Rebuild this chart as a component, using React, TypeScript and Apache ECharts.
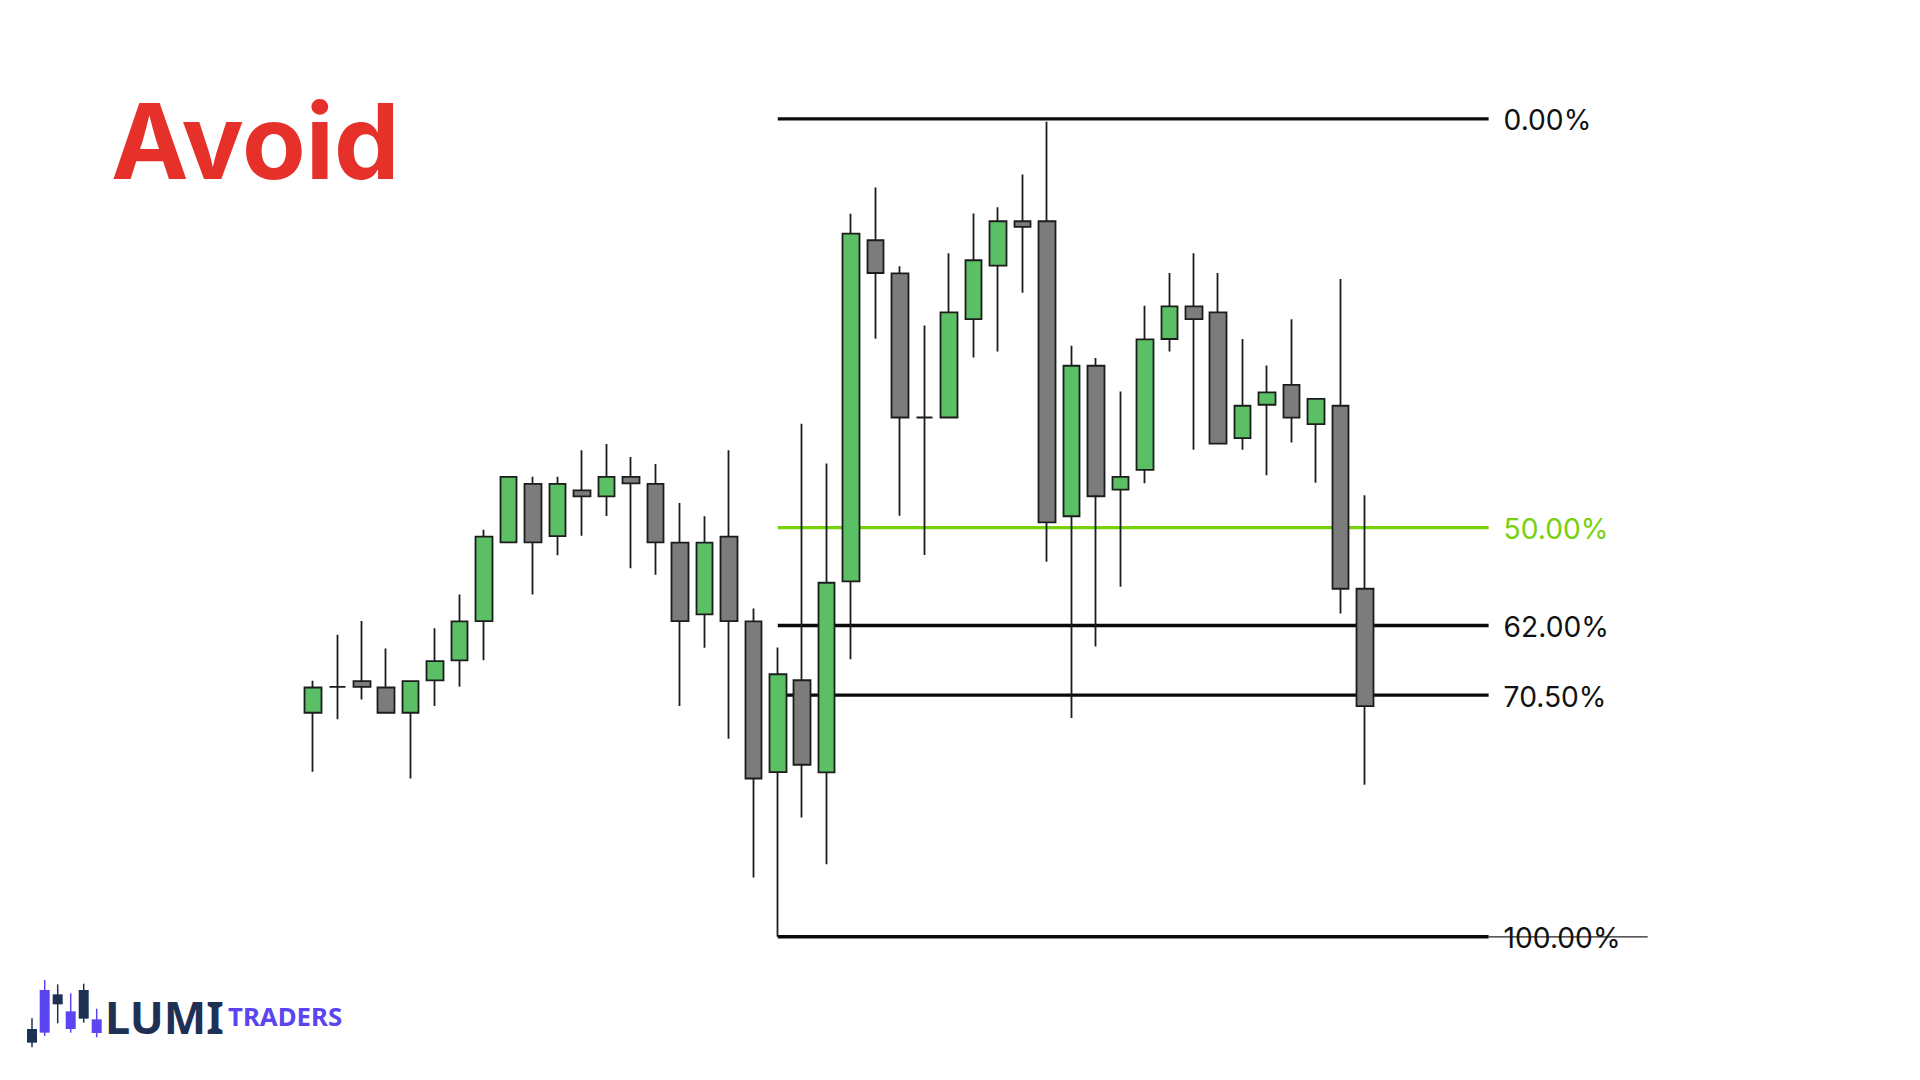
import React, { useEffect, useRef } from "react";
import * as echarts from "echarts";

const highs = [395.4,441.8,455.5,428,395.1,448.2,482.1,547.4,600.4,600.7,600.7,627.2,633.5,620.5,613.5,574.2,560.8,627.2,468.2,429,654,614,865,891.4,812.2,752.8,825.3,865.2,871.6,904.5,957.5,732.3,720,686.4,772.6,805.5,825.3,805.5,739,712.5,759,679,799.5,582];
const tops = [388.7,389.4,395.1,388.7,395.1,415.2,455.2,540.4,600.4,593.4,593.4,587,600.4,600.4,593.4,534.3,534.3,540.4,455.2,402,396,494,845,838.4,805.2,660.2,765.9,818.3,857.5,857.5,857.5,712.2,712.2,600.5,738.7,772,772,765.9,672,685.5,693,679,672,488];
const bottoms = [363.3,389.4,389.4,363.3,363.3,395.8,415.9,455.5,534.6,534.6,541,580.9,580.9,594,534.6,455.5,462.2,455.5,297.2,303.6,311,303.4,495.4,805.5,660.2,660.2,660.2,759.2,812.9,851.8,554.8,560.9,581,587.7,607.5,739.1,759.2,634,639.5,673,660,653.5,488,370];
const lows = [304,356.8,376.5,363.3,297.2,370,389.5,416.2,534.6,482.3,521.6,541.3,561.1,508.5,502.1,370,428.7,337.2,197.6,138,258,211,417,739.4,561.5,522,660.2,720.6,726.6,785.7,515.2,358,430,490,594.1,726.6,627.7,634,627.7,602,635,594.5,463,291];
// 1 = green (rising), 0 = grey (falling)
const rising = [1,0,0,0,1,1,1,1,1,0,1,0,1,0,0,0,1,0,0,1,0,1,1,0,0,0,1,1,1,0,0,1,0,1,1,1,0,0,1,1,0,1,0,0];

const slotCount = 58;
const categories = Array.from({ length: slotCount }, (_, i) => String(i + 1));

const levelLabels = ["0.00%", "50.00%", "62.00%", "70.50%", "100.00%"];
const levelPrices = [960.5, 549.5, 451, 381, 138];
const levelColors = ["#0a0a0a", "#76d10a", "#0a0a0a", "#0a0a0a", "#0a0a0a"];
const levelStart = 19;
const levelEnd = 48.05;
const tailEnd = 54.55;

const logoDark = "#1e3054";
const logoPurple = "#5b45f0";
const logoCandles = [
  [32, 235, 267, 308, 322, logoDark],
  [44.7, 120, 150, 278, 288, logoPurple],
  [57.7, 133, 163, 193, 250, logoDark],
  [70.7, 160, 214, 267, 278, logoPurple],
  [83.7, 131, 150, 236, 248, logoDark],
  [96.7, 206, 238, 279, 292, logoPurple],
] as const;

function logoGraphics() {
  const y = (z: number) => 940 + z / 3;
  const out: any[] = [];
  logoCandles.forEach(([x, wt, bt, bb, wb, c]) => {
    out.push({ type: "line", shape: { x1: x, x2: x, y1: y(wt), y2: y(wb) }, style: { stroke: c, lineWidth: 1.5 } });
    out.push({ type: "rect", shape: { x: x - 5, y: y(bt), width: 10, height: y(bb) - y(bt) }, style: { fill: c } });
  });
  return out;
}

export default function App() {
  const ref = useRef<HTMLDivElement>(null);
  useEffect(() => {
    const chart = echarts.init(ref.current!, undefined, { renderer: "svg" });
    const candleData = highs.map((h, i) =>
      rising[i] ? [bottoms[i], tops[i], lows[i], h] : [tops[i], bottoms[i], lows[i], h]
    );
    const levelSeries = levelPrices.map((p, i) => ({
      type: "line",
      xAxisIndex: 1,
      yAxisIndex: 0,
      z: 1,
      silent: true,
      showSymbol: false,
      symbol: "none",
      data: [[levelStart, p], [levelEnd, p]],
      lineStyle: { color: levelColors[i], width: 3.4, cap: "butt" },
      endLabel: {
        show: true,
        formatter: () => levelLabels[i],
        distance: 15,
        offset: [0, 1.5],
        color: levelColors[i] === "#0a0a0a" ? "#111111" : levelColors[i],
        fontFamily: "Inter",
        fontSize: 28.2,
        fontWeight: 400,
      },
    }));
    chart.setOption({
      animation: false,
      backgroundColor: "#ffffff",
      grid: { left: 300.6, top: 0, width: 24.47 * slotCount, height: 1074.05, containLabel: false },
      xAxis: [
        { type: "category", data: categories, show: false, boundaryGap: true },
        { type: "value", min: -0.5, max: slotCount - 0.5, show: false },
      ],
      yAxis: [{ type: "value", min: 0, max: 1080, show: false, splitLine: { show: false } }],
      series: [
        ...levelSeries,
        {
          type: "line",
          xAxisIndex: 1,
          yAxisIndex: 0,
          z: 1,
          silent: true,
          showSymbol: false,
          symbol: "none",
          data: [[levelEnd, levelPrices[4]], [tailEnd, levelPrices[4]]],
          lineStyle: { color: "#222222", width: 1.3 },
        },
        {
          type: "candlestick",
          xAxisIndex: 0,
          yAxisIndex: 0,
          z: 5,
          barWidth: 17,
          data: candleData,
          itemStyle: {
            color: "#5bbf65",
            color0: "#7c7c7c",
            borderColor: "#1c1c1c",
            borderColor0: "#1c1c1c",
            borderColorDoji: "#1c1c1c",
            borderWidth: 1.8,
          },
        },
      ],
      graphic: [
        {
          type: "text",
          left: 111,
          top: 89,
          style: {
            text: "Avoid",
            fill: "#e6302a",
            fontFamily: "Inter",
            fontWeight: 700,
            fontSize: 104,
          },
        },
        ...logoGraphics(),
        {
          type: "text",
          x: 105,
          y: 1016,
          style: { text: "LUMI", fill: logoDark, font: "700 45px 'Noto Sans'", textVerticalAlign: "middle" },
        },
        {
          type: "text",
          x: 228,
          y: 1016,
          style: { text: "TRADERS", fill: logoPurple, font: "700 25.8px 'Noto Sans'", textVerticalAlign: "middle" },
        },
      ],
    });
    return () => chart.dispose();
  }, []);
  return (
    <div
      ref={ref}
      style={{ position: "absolute", left: 0, top: 0, width: 1920, height: 1080, background: "#fff" }}
    />
  );
}
